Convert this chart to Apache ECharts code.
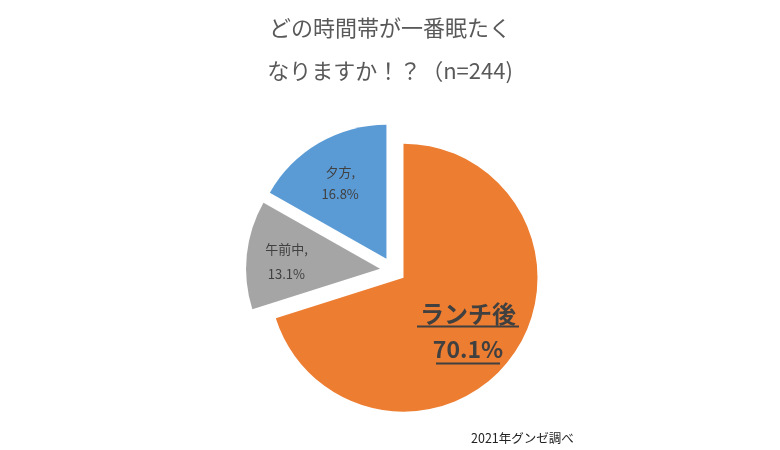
<!DOCTYPE html>
<html><head><meta charset="utf-8">
<script src="https://cdn.jsdelivr.net/npm/echarts@6/dist/echarts.min.js"></script>
<style>html,body{margin:0;padding:0;background:#fff}#c{width:780px;height:450px}</style>
</head><body><div id="c"></div>
<script>
const titleLines = ['どの時間帯が一番眠たく', 'なりますか！？（n=244)'];
const source = '2021年グンゼ調べ';
const categories = ['ランチ後', '午前中', '夕方'];
const values = [70.1, 13.1, 16.8];
const colors = ['#ED7D31', '#A5A5A5', '#5B9BD5'];

const font = '"Noto Sans CJK JP", "Noto Sans", sans-serif';
const smallLabel = p => p.name + ',\n' + p.value.toFixed(1) + '%';
const labelShifts = [[8, 15], [-24, 0], [-11, -15]];
const labelLineHeights = [22, 25, 22];

const data = categories.map((c, i) => {
  const item = { name: c, value: values[i], selected: true, itemStyle: { color: colors[i] } };
  if (i === 0) {
    item.label = {
      formatter: p => '{n|' + p.name + '}\n{u1| }\n{g| }\n{v|' + p.value.toFixed(1) + '%}\n{u2| }',
      rich: {
        n: { fontSize: 24, fontWeight: 'bold', color: '#404040', lineHeight: 22, fontFamily: font },
        u1: { width: 102, height: 2, lineHeight: 3, fontSize: 1, backgroundColor: '#404040' },
        g: { fontSize: 1, lineHeight: 8 },
        v: { fontSize: 23, fontWeight: 'bold', color: '#404040', lineHeight: 26, fontFamily: font },
        u2: { width: 64, height: 2, lineHeight: 3, fontSize: 1, backgroundColor: '#404040' }
      }
    };
  } else {
    item.label = { lineHeight: labelLineHeights[i], formatter: smallLabel };
  }
  return item;
});

const chart = echarts.init(document.getElementById('c'), null, { renderer: 'canvas' });
chart.setOption({
  animation: false,
  backgroundColor: '#ffffff',
  title: [
    { text: titleLines.join('\n'), left: 'center', top: 1,
      textStyle: { fontSize: 22, fontWeight: 'normal', color: '#595959', lineHeight: 43, fontFamily: font } },
    { text: source, left: 466, top: 427,
      textStyle: { fontSize: 12.5, fontWeight: 'normal', color: '#222222', fontFamily: font } }
  ],
  series: [{
    type: 'pie',
    center: [393, 270],
    radius: 134,
    startAngle: 90,
    clockwise: true,
    selectedMode: 'multiple',
    selectedOffset: 13,
    avoidLabelOverlap: false,
    itemStyle: { borderWidth: 0 },
    emphasis: { disabled: true },
    select: { disabled: false, itemStyle: { borderWidth: 0 } },
    label: {
      show: true, position: 'inside', color: '#404040', fontSize: 13, lineHeight: 23,
      fontFamily: font, align: 'center'
    },
    labelLayout: p => ({ dx: labelShifts[p.dataIndex][0], dy: labelShifts[p.dataIndex][1] }),
    labelLine: { show: false },
    data: data
  }]
});
</script></body></html>
